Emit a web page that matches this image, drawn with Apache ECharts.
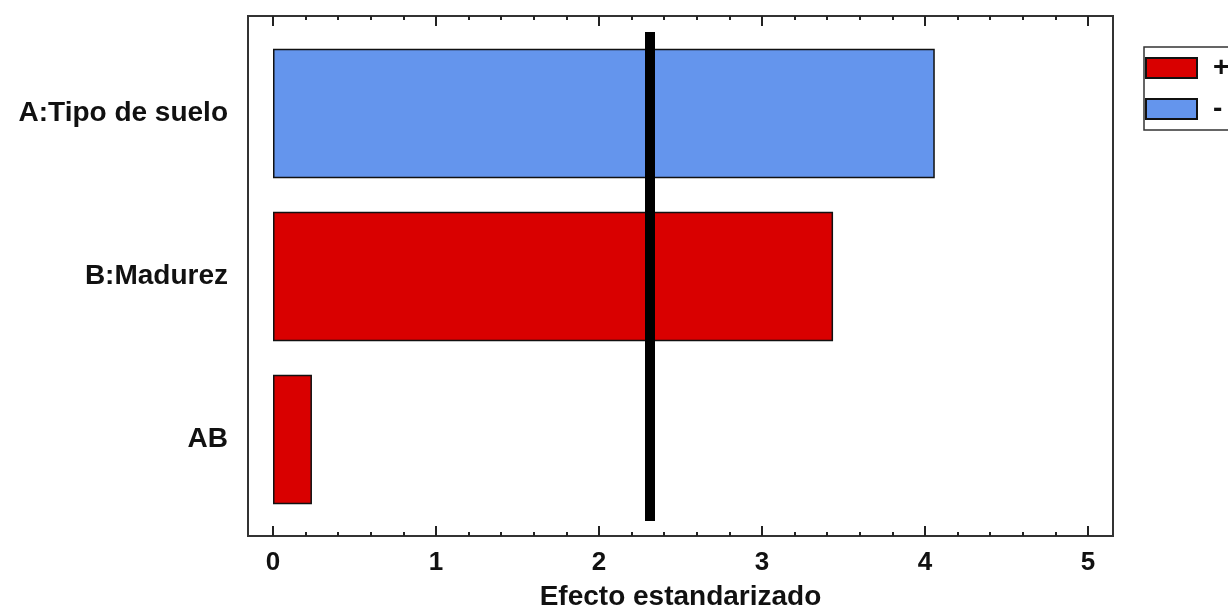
<!DOCTYPE html>
<html>
<head>
<meta charset="utf-8">
<script src="https://cdn.jsdelivr.net/npm/echarts@6/dist/echarts.min.js"></script>
<style>html,body{margin:0;padding:0;background:#fff;}#c{width:1228px;height:610px;}</style>
</head>
<body>
<div id="c"></div>
<script>
const categories = ['A:Tipo de suelo', 'B:Madurez', 'AB'];
const positiveEffects = [null, 3.436, 0.239];
const negativeEffects = [4.06, null, null];
const criticalValue = 2.313;
const xMin = 0, xMax = 5, xInterval = 1;
const axisName = 'Efecto estandarizado';

const FONT = '"Liberation Sans", Arial, sans-serif';
const chart = echarts.init(document.getElementById('c'), null, {renderer: 'canvas'});
const inner = {left: 273, right: 140};
chart.setOption({
  animation: false,
  backgroundColor: '#fff',
  grid: [
    {left: 248, right: 115, top: 16, bottom: 74, show: true, borderColor: '#333', borderWidth: 2, backgroundColor: 'transparent', outerBoundsMode: 'none', containLabel: false},
    {left: inner.left, right: inner.right, top: 16, bottom: 74, outerBoundsMode: 'none', containLabel: false},
    {left: inner.left, right: inner.right, top: 32, bottom: 89, outerBoundsMode: 'none', containLabel: false}
  ],
  xAxis: [
    {gridIndex: 0, type: 'value', show: false, min: 0, max: 1},
    {gridIndex: 1, type: 'value', position: 'bottom', min: xMin, max: xMax, interval: xInterval,
      axisLine: {show: false},
      axisTick: {show: true, inside: true, length: 10, lineStyle: {color: '#222', width: 2}},
      minorTick: {show: true, splitNumber: 5, length: 4, lineStyle: {color: '#222', width: 2}},
      splitLine: {show: false},
      axisLabel: {margin: 14, fontSize: 26, fontWeight: 'bold', color: '#111', fontFamily: FONT},
      name: axisName, nameLocation: 'middle', nameGap: 47,
      nameTextStyle: {fontSize: 28, fontWeight: 'bold', color: '#111', fontFamily: FONT}
    },
    {gridIndex: 1, type: 'value', position: 'top', min: xMin, max: xMax, interval: xInterval,
      axisLine: {show: false},
      axisTick: {show: true, inside: true, length: 10, lineStyle: {color: '#222', width: 2}},
      minorTick: {show: true, splitNumber: 5, length: 4, lineStyle: {color: '#222', width: 2}},
      splitLine: {show: false},
      axisLabel: {show: false}
    },
    {gridIndex: 2, type: 'value', show: false, min: xMin, max: xMax}
  ],
  yAxis: [
    {gridIndex: 0, type: 'value', show: false, min: 0, max: 1},
    {gridIndex: 1, type: 'value', show: false, min: 0, max: 1},
    {gridIndex: 2, type: 'category', inverse: true, data: categories,
      axisLine: {show: false}, axisTick: {show: false}, splitLine: {show: false},
      axisLabel: {margin: 45, fontSize: 28, fontWeight: 'bold', color: '#111', fontFamily: FONT}
    }
  ],
  legend: {
    orient: 'vertical', left: 1144, top: 47,
    padding: [7, 30, 7, 1], itemGap: 13, itemWidth: 51, itemHeight: 20,
    borderColor: '#333', borderWidth: 1.5, backgroundColor: '#fff',
    icon: 'rect',
    textStyle: {fontSize: 28, fontWeight: 'bold', color: '#111', fontFamily: FONT, padding: [4, 0, 0, 11]},
    data: ['+', '-']
  },
  series: [
    {name: '+', type: 'bar', xAxisIndex: 3, yAxisIndex: 2, data: positiveEffects,
      barWidth: '79.5%', barGap: '-100%',
      itemStyle: {color: '#d90000', borderColor: '#111', borderWidth: 1.5},
      markLine: {silent: true, symbol: 'none', label: {show: false},
        lineStyle: {color: '#000', width: 10, type: 'solid'},
        data: [{xAxis: criticalValue}]}
    },
    {name: '-', type: 'bar', xAxisIndex: 3, yAxisIndex: 2, data: negativeEffects,
      barWidth: '79.5%', barGap: '-100%',
      itemStyle: {color: '#6495ed', borderColor: '#111', borderWidth: 1.5}
    }
  ]
});
</script>
</body>
</html>
